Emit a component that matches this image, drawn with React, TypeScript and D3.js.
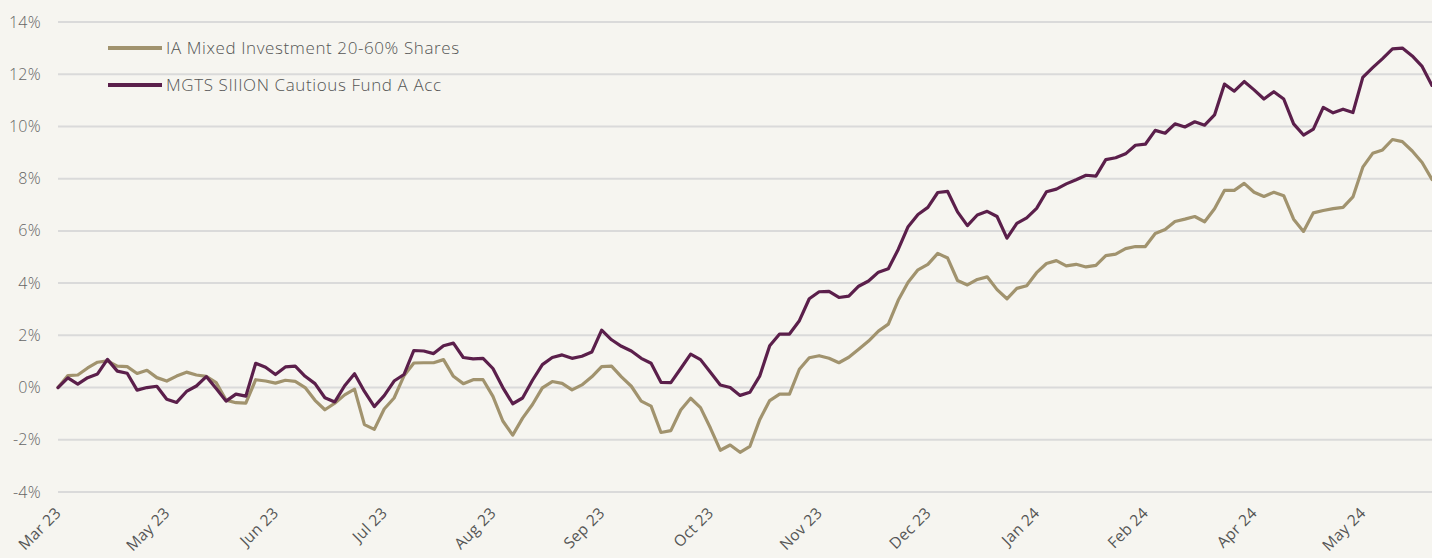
import React from "react";
import * as d3 from "d3";

const tickLabels = ["Mar 23", "May 23", "Jun 23", "Jul 23", "Aug 23", "Sep 23", "Oct 23", "Nov 23", "Dec 23", "Jan 24", "Feb 24", "Apr 24", "May 24"];
const labelEvery = 11;
const yTicks = [-4, -2, 0, 2, 4, 6, 8, 10, 12, 14];
const seriesNames = ["IA Mixed Investment 20-60% Shares", "MGTS SIIION Cautious Fund A Acc"];

// IA Mixed Investment 20-60% Shares (cumulative %)
const sectorValues = [
  0.0, 0.46, 0.48, 0.75, 0.97, 1.02, 0.82, 0.8, 0.54, 0.66,
  0.38, 0.25, 0.44, 0.59, 0.48, 0.43, 0.19, -0.48, -0.58, -0.6,
  0.3, 0.25, 0.17, 0.28, 0.24, 0.0, -0.49, -0.85, -0.6, -0.28,
  -0.06, -1.42, -1.6, -0.82, -0.4, 0.45, 0.94, 0.95, 0.95, 1.07,
  0.43, 0.15, 0.3, 0.3, -0.34, -1.28, -1.82, -1.17, -0.65, -0.01,
  0.23, 0.16, -0.09, 0.1, 0.41, 0.8, 0.82, 0.41, 0.05, -0.52,
  -0.71, -1.72, -1.65, -0.86, -0.41, -0.77, -1.55, -2.4, -2.2, -2.48,
  -2.25, -1.22, -0.5, -0.25, -0.25, 0.7, 1.14, 1.22, 1.12, 0.95,
  1.16, 1.47, 1.78, 2.16, 2.43, 3.34, 4.03, 4.51, 4.72, 5.14,
  4.96, 4.1, 3.93, 4.14, 4.24, 3.75, 3.4, 3.8, 3.9, 4.4,
  4.75, 4.86, 4.66, 4.72, 4.62, 4.68, 5.05, 5.11, 5.32, 5.4,
  5.4, 5.9, 6.05, 6.36, 6.45, 6.55, 6.35, 6.85, 7.55, 7.55,
  7.82, 7.48, 7.32, 7.48, 7.35, 6.45, 5.98, 6.69, 6.78, 6.85,
  6.9, 7.3, 8.44, 8.97, 9.1, 9.5, 9.42, 9.06, 8.62, 7.97,
];

// MGTS SIIION Cautious Fund A Acc (cumulative %)
const fundValues = [
  0.0, 0.37, 0.13, 0.38, 0.52, 1.08, 0.63, 0.55, -0.1, 0.0,
  0.05, -0.45, -0.57, -0.15, 0.06, 0.42, -0.04, -0.52, -0.25, -0.33,
  0.93, 0.78, 0.5, 0.79, 0.82, 0.43, 0.15, -0.39, -0.55, 0.07,
  0.53, -0.15, -0.73, -0.31, 0.25, 0.5, 1.42, 1.4, 1.3, 1.6,
  1.7, 1.15, 1.1, 1.12, 0.73, 0.0, -0.62, -0.4, 0.28, 0.88,
  1.15, 1.25, 1.12, 1.2, 1.36, 2.2, 1.83, 1.58, 1.4, 1.12,
  0.93, 0.2, 0.19, 0.73, 1.28, 1.07, 0.59, 0.1, 0.0, -0.3,
  -0.18, 0.45, 1.6, 2.05, 2.05, 2.56, 3.4, 3.67, 3.68, 3.45,
  3.5, 3.88, 4.08, 4.42, 4.55, 5.29, 6.16, 6.63, 6.9, 7.47,
  7.51, 6.73, 6.2, 6.61, 6.75, 6.55, 5.72, 6.29, 6.5, 6.86,
  7.5, 7.6, 7.8, 7.96, 8.13, 8.1, 8.73, 8.8, 8.95, 9.28,
  9.32, 9.85, 9.74, 10.1, 9.98, 10.18, 10.05, 10.44, 11.62, 11.35,
  11.72, 11.4, 11.05, 11.33, 11.05, 10.1, 9.67, 9.9, 10.73, 10.52,
  10.66, 10.53, 11.88, 12.25, 12.6, 12.97, 13.0, 12.7, 12.3, 11.57,
];

const W = 1432;
const H = 558;
const COLORS = ["#a1936e", "#5b1f4b"];
const FONT = "'Open Sans', Lato, sans-serif";

export default function App() {
  const n = fundValues.length;
  const x = d3.scaleLinear().domain([0, n - 1]).range([58, 1432]);
  const y = d3.scaleLinear().domain([-4, 14]).range([492, 22]);
  const line = d3
    .line<number>()
    .x((_, i) => x(i))
    .y((d) => y(d))
    .curve(d3.curveLinear);

  const series = [sectorValues, fundValues];

  return (
    <div>
      <style>{`body{margin:0;background:#f6f5f0}`}</style>
      <svg width={W} height={H} style={{ display: "block", background: "#f6f5f0" }} fontFamily={FONT} fontWeight={300}>
        <rect x={0} y={0} width={W} height={H} fill="#f6f5f0" />
        {yTicks.map((t) => (
          <g key={t}>
            <line x1={58} x2={W} y1={y(t)} y2={y(t)} stroke="#dadada" strokeWidth={2} />
            <text x={41} y={y(t)} dy="0.35em" textAnchor="end" fontSize={16} fill="#666" letterSpacing={0.3}>
              {`${t}%`}
            </text>
          </g>
        ))}
        {tickLabels.map((lab, k) => {
          const tx = x(k * labelEvery) + 4;
          const ty = 514;
          return (
            <text
              key={lab}
              x={tx}
              y={ty}
              textAnchor="end"
              fontSize={15.5}
              fontWeight={400}
              letterSpacing={0.3}
              fill="#555"
              transform={`rotate(-45 ${tx} ${ty})`}
            >
              {lab}
            </text>
          );
        })}
        {series.map((s, si) => (
          <path
            key={si}
            d={line(s) || ""}
            fill="none"
            stroke={COLORS[si]}
            strokeWidth={3.2}
            strokeLinejoin="round"
            strokeLinecap="round"
          />
        ))}
        {seriesNames.map((name, si) => {
          const ly = si === 0 ? 48 : 85;
          return (
            <g key={name}>
              <line x1={108} x2={162} y1={ly} y2={ly} stroke={COLORS[si]} strokeWidth={4} />
              <text x={166} y={ly} dy="0.36em" fontSize={17} letterSpacing={0.6} fill="#555">
                {name}
              </text>
            </g>
          );
        })}
      </svg>
    </div>
  );
}
